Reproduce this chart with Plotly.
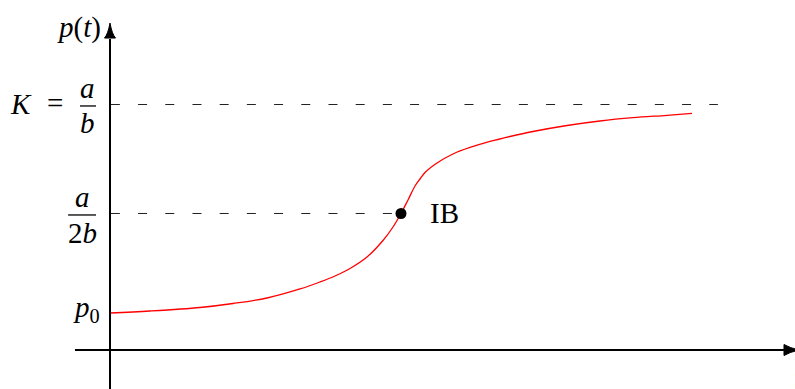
import plotly.graph_objects as go

# Population curve p(t): sampled (t, p) pairs, K normalised to 1
t_vals = [0.0, 1.375, 3.093, 4.227, 5.395, 6.529, 7.216, 7.732, 8.247, 8.832,
          9.381, 9.725, 10.0, 10.241, 10.481, 10.653, 10.825, 11.237, 11.787, 12.371,
          13.058, 13.746, 14.536, 15.704, 16.838, 17.973, 19.141, 20.0]
p_vals = [0.1504, 0.1585, 0.1728, 0.189, 0.2114, 0.248, 0.2764, 0.3008, 0.3313, 0.378,
          0.4451, 0.500, 0.5549, 0.6098, 0.6667, 0.6951, 0.7215, 0.7602, 0.7967, 0.8232,
          0.8476, 0.8679, 0.8882, 0.9126, 0.9309, 0.9443, 0.9541, 0.9622]

P0 = 0.1504       # initial value p0
K = 1.0           # carrying capacity a/b
T_IB = 10.0       # time of the inflection point
P_IB = 0.5549     # value at the inflection point a/(2b)

X_RANGE = [-3.780, 23.540]
Y_RANGE = [-0.15854, 1.42276]
X_AXIS_START = -1.203
X_AXIS_END = 23.196
Y_AXIS_END = 1.264
DASH_END = 20.89
HALF_PX = 0.5 / 246   # keeps the 1px dash line on a pixel row

SERIF = "Liberation Serif"
FS = 29

fig = go.Figure()

# growth curve
fig.add_trace(go.Scatter(x=t_vals, y=p_vals, mode="lines",
                         line=dict(color="#ff0000", width=1.3, shape="spline", smoothing=1.0),
                         hoverinfo="skip", showlegend=False))
# inflection point
fig.add_trace(go.Scatter(x=[T_IB], y=[P_IB], mode="markers",
                         marker=dict(color="black", size=11),
                         hoverinfo="skip", showlegend=False))

shapes = []
dash = dict(color="#222222", width=1, dash="9px,18.2px")
shapes.append(dict(type="line", x0=0.03, x1=DASH_END, y0=K - HALF_PX, y1=K - HALF_PX,
                   line=dash, layer="below"))
shapes.append(dict(type="line", x0=0.03, x1=T_IB, y0=P_IB, y1=P_IB, line=dash, layer="below"))

# axes
axis_line = dict(color="black", width=2)
shapes.append(dict(type="line", x0=0, x1=0, y0=Y_RANGE[0], y1=Y_AXIS_END, line=axis_line))
shapes.append(dict(type="line", x0=X_AXIS_START, x1=X_AXIS_END, y0=0, y1=0, line=axis_line))
# arrow heads (pixel-sized)
shapes.append(dict(type="path", xsizemode="pixel", ysizemode="pixel",
                   xanchor=0, yanchor=Y_AXIS_END,
                   path="M -5.5 1 Q -2 5 0 16 Q 2 5 5.5 1 Z",
                   fillcolor="black", line=dict(color="black", width=1)))
shapes.append(dict(type="path", xsizemode="pixel", ysizemode="pixel",
                   xanchor=X_AXIS_END, yanchor=0,
                   path="M -1 5.5 Q 5 2 14 0 Q 5 -2 -1 -5.5 Z",
                   fillcolor="black", line=dict(color="black", width=1)))
# fraction bars
bar = dict(color="black", width=1.3)
shapes.append(dict(type="line", x0=-1.03, x1=-0.48, y0=K - 0.008, y1=K - 0.008, line=bar))
shapes.append(dict(type="line", x0=-1.44, x1=-0.48, y0=P_IB - 0.006, y1=P_IB - 0.006, line=bar))

font = dict(family=SERIF, size=FS, color="black")
ann = []
def label(text, x, y, xanchor="center", xshift=0, yshift=0, xref="x", yref="y"):
    ann.append(dict(text=text, x=x, y=y, xref=xref, yref=yref, showarrow=False,
                    xanchor=xanchor, yanchor="middle", xshift=xshift, yshift=yshift,
                    font=font))

label("<i>p</i>(<i>t</i>)", 0, Y_AXIS_END, xanchor="right", xshift=-7, yshift=12)
label("<i>K</i>", 0, K, xanchor="right", xshift=-76, yshift=0)
label("=", 0, K, xshift=-55, yshift=1)
label("<i>a</i>", 0, K, xshift=-23, yshift=16)
label("<i>b</i>", 0, K, xshift=-23, yshift=-19)
label("<i>a</i>", 0, P_IB, xshift=-28, yshift=16)
label("2<i>b</i>", 0, P_IB, xshift=-28, yshift=-20)
label("<i>p</i><sub>0</sub>", 0, P0, xanchor="right", xshift=-8, yshift=4)
label("IB", T_IB, P_IB, xanchor="left", xshift=27, yshift=0)
label("<i>t</i>", X_AXIS_END, 0, xanchor="left", xshift=7, yshift=-29)

fig.update_layout(
    width=795, height=389,
    margin=dict(l=0, r=0, t=0, b=0),
    paper_bgcolor="white", plot_bgcolor="white",
    xaxis=dict(range=X_RANGE, visible=False, fixedrange=True),
    yaxis=dict(range=Y_RANGE, visible=False, fixedrange=True),
    shapes=shapes, annotations=ann, showlegend=False,
)

fig.write_html("out.html")
